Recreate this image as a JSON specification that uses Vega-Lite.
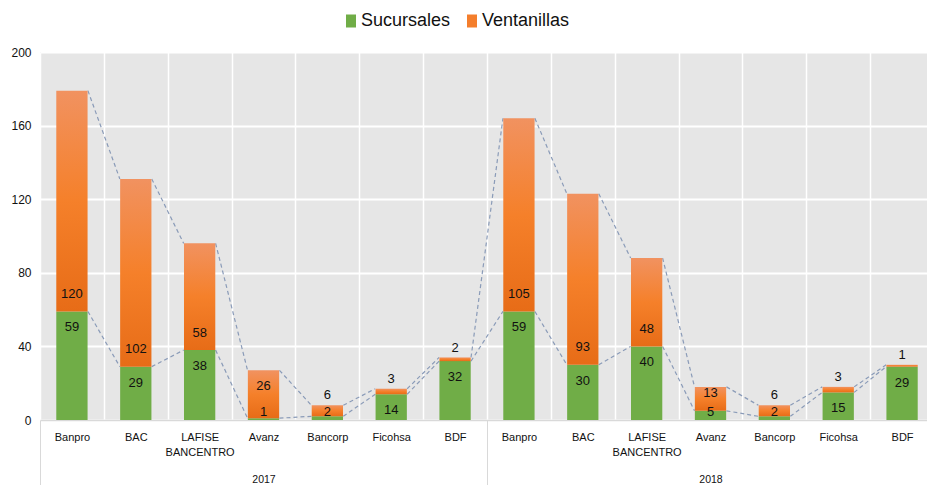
{
  "$schema": "https://vega.github.io/schema/vega-lite/v6.json",
  "autosize": {"type": "none"},
  "padding": {"left": 40, "top": 52, "right": 0, "bottom": 65},
  "width": 887,
  "height": 368,
  "background": "white",
  "config": {
    "view": {"fill": "#E6E6E6", "stroke": null},
    "font": "Liberation Sans",
    "axis": {"labelFont": "Liberation Sans", "labelColor": "#111111"}
  },
  "data": {
    "values": [
      {"year": "2017", "bank": "Banpro", "Sucursales": 59, "Ventanillas": 120},
      {"year": "2017", "bank": "BAC", "Sucursales": 29, "Ventanillas": 102},
      {"year": "2017", "bank": "LAFISE BANCENTRO", "Sucursales": 38, "Ventanillas": 58},
      {"year": "2017", "bank": "Avanz", "Sucursales": 1, "Ventanillas": 26},
      {"year": "2017", "bank": "Bancorp", "Sucursales": 2, "Ventanillas": 6},
      {"year": "2017", "bank": "Ficohsa", "Sucursales": 14, "Ventanillas": 3},
      {"year": "2017", "bank": "BDF", "Sucursales": 32, "Ventanillas": 2},
      {"year": "2018", "bank": "Banpro", "Sucursales": 59, "Ventanillas": 105},
      {"year": "2018", "bank": "BAC", "Sucursales": 30, "Ventanillas": 93},
      {"year": "2018", "bank": "LAFISE BANCENTRO", "Sucursales": 40, "Ventanillas": 48},
      {"year": "2018", "bank": "Avanz", "Sucursales": 5, "Ventanillas": 13},
      {"year": "2018", "bank": "Bancorp", "Sucursales": 2, "Ventanillas": 6},
      {"year": "2018", "bank": "Ficohsa", "Sucursales": 15, "Ventanillas": 3},
      {"year": "2018", "bank": "BDF", "Sucursales": 29, "Ventanillas": 1}
    ]
  },
  "resolve": {"scale": {"x": "independent"}, "axis": {"x": "independent"}},
  "layer": [
    {
      "mark": {"type": "rule", "opacity": 0},
      "encoding": {
        "x": {
          "field": "year", "type": "nominal", "title": null,
          "scale": {"type": "band", "domain": ["2017", "2018"], "paddingInner": 0, "paddingOuter": 0, "range": [0, 894]},
          "axis": {
            "orient": "bottom", "domain": false, "grid": false, "ticks": true,
            "tickBand": "extent", "tickSize": 65, "tickColor": "#D9D9D9", "tickWidth": 1,
            "labelPadding": -11, "labelFontSize": 10.5, "labelBaseline": "top", "labelAngle": 0, "labelAlign": "center"
          }
        }
      }
    },
    {
      "transform": [
        {"calculate": "datum.year + '|' + datum.bank", "as": "key"},
        {"calculate": "datum.Sucursales + datum.Ventanillas", "as": "total"}
      ],
      "layer": [
        {
          "transform": [
            {"window": [
              {"op": "lead", "field": "key", "as": "nkey"},
              {"op": "lead", "field": "Sucursales", "as": "nsuc"},
              {"op": "lead", "field": "total", "as": "ntot"}
            ]},
            {"filter": "datum.nkey != null"}
          ],
          "layer": [
            {
              "mark": {"type": "rule", "color": "#8A9BB8", "strokeWidth": 1.2, "strokeDash": [4, 3]},
              "encoding": {
                "x": {"field": "key", "type": "nominal", "bandPosition": 0.75, "title": null,
                  "scale": {"type": "band", "domain": ["2017|Banpro","2017|BAC","2017|LAFISE BANCENTRO","2017|Avanz","2017|Bancorp","2017|Ficohsa","2017|BDF","2018|Banpro","2018|BAC","2018|LAFISE BANCENTRO","2018|Avanz","2018|Bancorp","2018|Ficohsa","2018|BDF"], "paddingInner": 0, "paddingOuter": 0, "range": [0, 894]}},
                "x2": {"field": "nkey", "bandPosition": 0.25},
                "y": {"field": "Sucursales", "type": "quantitative", "title": null},
                "y2": {"field": "nsuc"}
              }
            },
            {
              "mark": {"type": "rule", "color": "#8A9BB8", "strokeWidth": 1.2, "strokeDash": [4, 3]},
              "encoding": {
                "x": {"field": "key", "type": "nominal", "bandPosition": 0.75, "title": null,
                  "scale": {"type": "band", "domain": ["2017|Banpro","2017|BAC","2017|LAFISE BANCENTRO","2017|Avanz","2017|Bancorp","2017|Ficohsa","2017|BDF","2018|Banpro","2018|BAC","2018|LAFISE BANCENTRO","2018|Avanz","2018|Bancorp","2018|Ficohsa","2018|BDF"], "paddingInner": 0, "paddingOuter": 0, "range": [0, 894]}},
                "x2": {"field": "nkey", "bandPosition": 0.25},
                "y": {"field": "total", "type": "quantitative", "title": null},
                "y2": {"field": "ntot"}
              }
            }
          ]
        },
        {
          "transform": [
            {"fold": ["Sucursales", "Ventanillas"], "as": ["serie", "value"]}
          ],
          "mark": {"type": "bar", "width": {"band": 0.49}},
          "encoding": {
            "x": {
              "field": "key", "type": "nominal", "title": null,
              "scale": {"type": "band", "domain": ["2017|Banpro","2017|BAC","2017|LAFISE BANCENTRO","2017|Avanz","2017|Bancorp","2017|Ficohsa","2017|BDF","2018|Banpro","2018|BAC","2018|LAFISE BANCENTRO","2018|Avanz","2018|Bancorp","2018|Ficohsa","2018|BDF"], "paddingInner": 0, "paddingOuter": 0, "range": [0, 894]},
              "axis": {
                "orient": "bottom", "labelAngle": 0, "labelAlign": "center", "ticks": false, "grid": true, "tickBand": "extent",
                "gridColor": "#FFFFFF", "gridWidth": 1.5, "domainColor": "#D9D9D9", "domainWidth": 1.5,
                "labelPadding": 11, "labelFontSize": 11, "labelBaseline": "top", "labelLineHeight": 15, "labelFlush": false,
                "labelExpr": "split(datum.label, '|')[1] == 'LAFISE BANCENTRO' ? ['LAFISE', 'BANCENTRO'] : split(datum.label, '|')[1]"
              }
            },
            "y": {
              "field": "value", "type": "quantitative", "stack": "zero", "title": null,
              "scale": {"domain": [0, 200], "nice": false},
              "axis": {
                "values": [0, 40, 80, 120, 160, 200], "domain": false, "ticks": false,
                "gridColor": "#FFFFFF", "gridWidth": 2, "labelPadding": 9, "labelFontSize": 12
              }
            },
            "color": {
              "field": "serie", "type": "nominal",
              "scale": {"domain": ["Sucursales", "Ventanillas"], "range": ["#70AD47", "#F47E2C"]},
              "condition": {
                "test": "datum.serie === 'Ventanillas'",
                "value": {"gradient": "linear", "x1": 0, "y1": 0, "x2": 0, "y2": 1,
                  "stops": [{"offset": 0, "color": "#F19260"}, {"offset": 0.5, "color": "#F5802A"}, {"offset": 1, "color": "#E76C17"}]}
              },
              "legend": {
                "orient": "none", "legendX": 302, "legendY": -40, "direction": "horizontal",
                "title": null, "labelFontSize": 18, "labelFont": "Liberation Sans", "labelColor": "#111111",
                "labelOffset": 1, "columnPadding": 12,
                "symbolType": "M-0.77,-1H0.77V1H-0.77Z", "symbolSize": 169, "symbolStrokeWidth": 0
              }
            },
            "order": {"field": "serie"}
          }
        },
        {
          "transform": [{"calculate": "max(datum.Sucursales - 8.7, 4.5)", "as": "gy"}],
          "mark": {"type": "text", "fontSize": 13, "baseline": "middle", "color": "#111111"},
          "encoding": {
            "x": {"field": "key", "type": "nominal", "title": null,
              "scale": {"type": "band", "domain": ["2017|Banpro","2017|BAC","2017|LAFISE BANCENTRO","2017|Avanz","2017|Bancorp","2017|Ficohsa","2017|BDF","2018|Banpro","2018|BAC","2018|LAFISE BANCENTRO","2018|Avanz","2018|Bancorp","2018|Ficohsa","2018|BDF"], "paddingInner": 0, "paddingOuter": 0, "range": [0, 894]}},
            "y": {"field": "gy", "type": "quantitative", "title": null},
            "text": {"field": "Sucursales", "type": "quantitative"}
          }
        },
        {
          "transform": [{"calculate": "datum.Ventanillas < 10 ? datum.total + 5.4 : (datum.Sucursales < 4 ? datum.total - 8.7 : datum.Sucursales + 9.5)", "as": "oy"}],
          "mark": {"type": "text", "fontSize": 13, "baseline": "middle", "color": "#111111"},
          "encoding": {
            "x": {"field": "key", "type": "nominal", "title": null,
              "scale": {"type": "band", "domain": ["2017|Banpro","2017|BAC","2017|LAFISE BANCENTRO","2017|Avanz","2017|Bancorp","2017|Ficohsa","2017|BDF","2018|Banpro","2018|BAC","2018|LAFISE BANCENTRO","2018|Avanz","2018|Bancorp","2018|Ficohsa","2018|BDF"], "paddingInner": 0, "paddingOuter": 0, "range": [0, 894]}},
            "y": {"field": "oy", "type": "quantitative", "title": null},
            "text": {"field": "Ventanillas", "type": "quantitative"}
          }
        }
      ]
    }
  ]
}
